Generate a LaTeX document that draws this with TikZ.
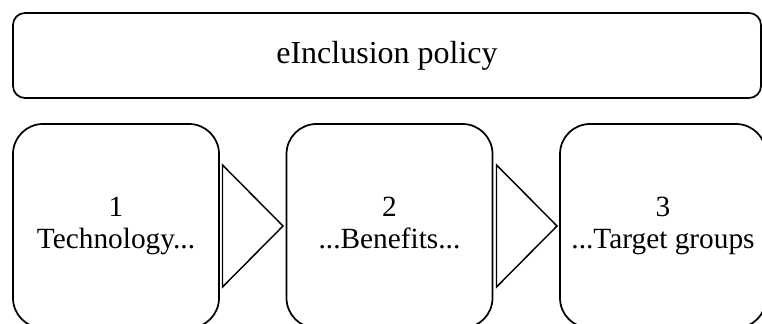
\documentclass[tikz,border=0pt]{standalone}
\usepackage{fontspec}
\setmainfont{Liberation Serif}
\usetikzlibrary{calc}
\begin{document}
\begin{tikzpicture}[x=0.75pt,y=-0.75pt,
  topbox/.style={draw,line width=1.3pt,rounded corners=9pt,minimum width=748*0.75pt,minimum height=85*0.75pt,inner sep=0pt,font=\fontsize{24}{26}\selectfont},
  stepbox/.style={draw,line width=1.3pt,rounded corners=22.5pt,minimum width=206*0.75pt,minimum height=204*0.75pt,inner sep=0pt,align=center,font=\fontsize{22}{24}\selectfont},
  tri/.style={draw,line width=1.1pt,line join=miter}]
\useasboundingbox (0,0) rectangle (762,324);
\clip (0,0) rectangle (762,324);
\node[topbox] (top) at (387,55.5) {eInclusion policy};
\node[stepbox] (b1) at (116,226) {\strut 1\\Technology...\strut};
\node[stepbox] (b2) at (389.5,226) {\strut 2\\...Benefits...\strut};
\node[stepbox] (b3) at (663,226) {\strut 3\\...Target groups\strut};
\draw[tri] (222.5,165) -- (283,226) -- (222.5,287) -- cycle;
\draw[tri] (496.5,165) -- (557,226) -- (496.5,287) -- cycle;
\end{tikzpicture}
\end{document}
